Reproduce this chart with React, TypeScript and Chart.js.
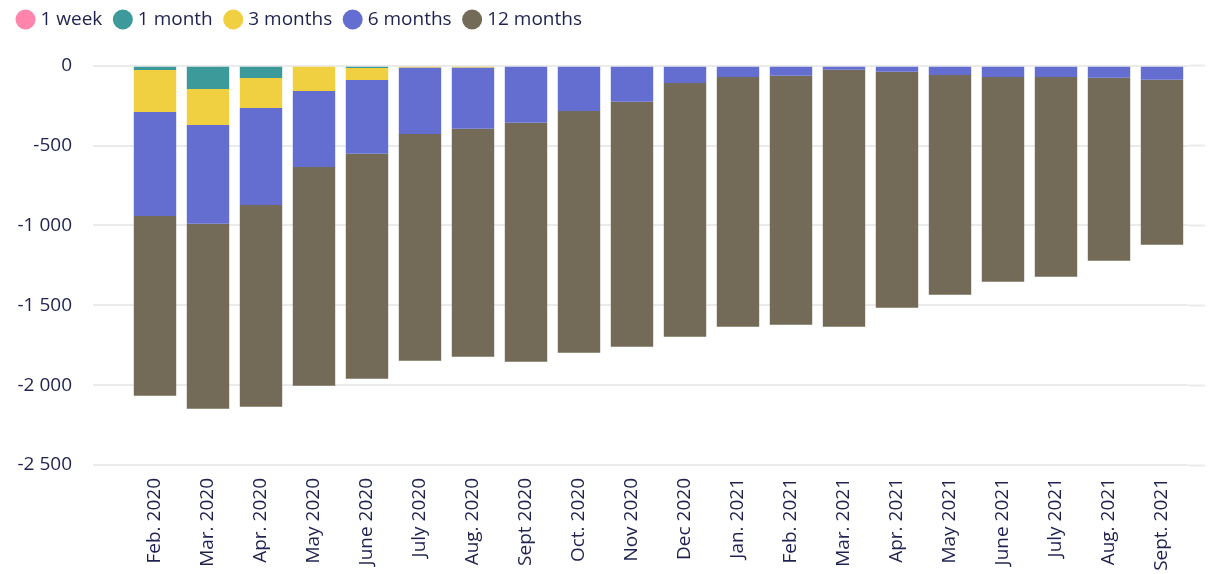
import React, { useEffect, useRef } from "react";
import { Chart, registerables } from "chart.js";

Chart.register(...registerables);

const categories: string[] = [
  "Feb. 2020", "Mar. 2020", "Apr. 2020", "May 2020", "June 2020", "July 2020",
  "Aug. 2020", "Sept 2020", "Oct. 2020", "Nov 2020", "Dec 2020", "Jan. 2021",
  "Feb. 2021", "Mar. 2021", "Apr. 2021", "May 2021", "June 2021", "July 2021",
  "Aug. 2021", "Sept. 2021",
];

const oneWeek: number[] = [0, -7, 0, 0, 0, 0, 0, 0, 0, 0, 0, 0, 0, 0, 0, 0, 0, 0, 0, 0];
const oneMonth: number[] = [-27, -139, -77, 0, -14, 0, 0, 0, 0, 0, 0, 0, 0, 0, 0, 0, 0, 0, 0, 0];
const threeMonths: number[] = [-263, -225, -188, -158, -76, -12, -12, 0, 0, 0, 0, 0, 0, 0, 0, 0, 0, 0, 0, 0];
const sixMonths: number[] = [
  -651, -618, -607, -476, -461, -416, -382, -357, -283, -226,
  -108, -71, -63, -25, -38, -58, -71, -71, -75, -88,
];
const twelveMonths: number[] = [
  -1125, -1159, -1263, -1370, -1409, -1419, -1428, -1496, -1514, -1533,
  -1589, -1563, -1559, -1609, -1477, -1376, -1281, -1250, -1146, -1033,
];

const seriesNames: string[] = ["1 week", "1 month", "3 months", "6 months", "12 months"];
const seriesColors: string[] = ["#FF85AD", "#3D9A9B", "#F0CF40", "#646ED0", "#736B57"];

const yMin = -2500;
const yMax = 0;
const yStep = 500;

const TEXT = "#1F2150";
const GRID = "#EBEBEB";

function fmt(v: number): string {
  const s = Math.abs(v).toString().replace(/\B(?=(\d{3})+(?!\d))/g, " ");
  return (v < 0 ? "-" : "") + s;
}

export default function App() {
  const ref = useRef<HTMLCanvasElement | null>(null);
  useEffect(() => {
    if (!ref.current) return;
    const values = [oneWeek, oneMonth, threeMonths, sixMonths, twelveMonths];
    const legendSpacer = {
      id: "legendSpacer",
      beforeInit(chart: any) {
        const lg = chart.legend;
        if (!lg) return;
        const orig = lg.fit;
        lg.fit = function () {
          orig.call(this);
          this.height = 70.7;
        };
      },
    };
    const chart = new Chart(ref.current, {
      type: "bar",
      data: {
        labels: categories,
        datasets: seriesNames.map((name, i) => ({
          label: name,
          data: values[i],
          backgroundColor: seriesColors[i],
          borderWidth: 0,
          categoryPercentage: 0.8,
          barPercentage: 1,
          yAxisID: "y",
        })),
      },
      options: {
        animation: false,
        responsive: true,
        maintainAspectRatio: false,
        layout: { padding: { top: -5, left: 5, right: 0, bottom: 0 } },
        font: { family: "'Open Sans'", size: 19 },
        plugins: {
          tooltip: { enabled: false },
          legend: {
            position: "top",
            align: "start",
            labels: {
              usePointStyle: true,
              pointStyle: "circle",
              boxWidth: 11,
              boxHeight: 14.14,
              padding: 15,
              color: TEXT,
              font: { family: "'Open Sans'", size: 19 },
            },
          },
        },
        scales: {
          x: {
            stacked: true,
            offset: true,
            grid: { display: false, drawTicks: false },
            border: { display: false },
            ticks: {
              autoSkip: false,
              minRotation: 90,
              maxRotation: 90,
              padding: 13,
              color: TEXT,
              font: { family: "'Open Sans'", size: 19 },
            },
            afterFit: (s: any) => {
              s.height = 109;
            },
          },
          y: {
            stacked: true,
            position: "left",
            min: yMin,
            max: yMax,
            grid: {
              color: GRID,
              lineWidth: 2,
              drawTicks: true,
              tickLength: 35.5,
              tickColor: GRID,
              tickWidth: 2,
            },
            border: { display: false },
            ticks: {
              stepSize: yStep,
              padding: 21,
              color: TEXT,
              font: { family: "'Open Sans'", size: 19 },
              callback: (v: any) => fmt(Number(v)),
            },
            afterFit: (s: any) => {
              s.width = 123.5;
            },
          },
          y2: {
            position: "right",
            min: yMin,
            max: yMax,
            grid: {
              drawOnChartArea: false,
              drawTicks: true,
              tickLength: 16.5,
              tickColor: GRID,
              tickWidth: 2,
              color: GRID,
            },
            border: { display: false },
            ticks: { stepSize: yStep, display: false },
            afterFit: (s: any) => {
              s.width = 24.5;
            },
          },
        },
      },
      plugins: [legendSpacer],
    } as any);
    return () => chart.destroy();
  }, []);
  return (
    <div style={{ position: "fixed", left: 0, top: 0, width: 1213, height: 574, background: "#fff" }}>
      <canvas ref={ref} />
    </div>
  );
}
